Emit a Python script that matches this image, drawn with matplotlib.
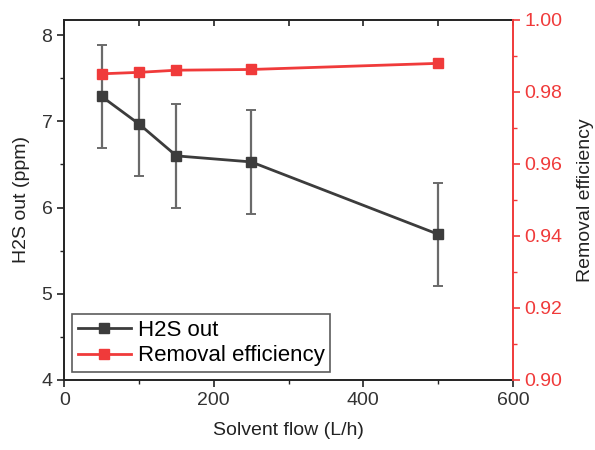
import matplotlib
matplotlib.use("Agg")
import matplotlib.pyplot as plt
from matplotlib.lines import Line2D
from matplotlib.ticker import MultipleLocator

plt.rcParams['font.family'] = ['Liberation Sans', 'DejaVu Sans']

# data
solvent_flow = [50, 100, 150, 250, 500]
h2s_out = [7.29, 6.97, 6.60, 6.53, 5.69]
h2s_err = [0.6, 0.6, 0.6, 0.6, 0.6]
removal_eff = [0.9850, 0.9854, 0.9860, 0.9862, 0.9879]

dark = '#3c3c3c'
red = '#f03a3a'

fig = plt.figure(figsize=(5.95, 4.5), dpi=100)
ax1 = fig.add_axes([0.108, 0.156, 0.754, 0.8])
ax2 = ax1.twinx()

# H2S out with error bars
ax1.errorbar(solvent_flow, h2s_out, yerr=h2s_err, color=dark, ecolor='#6a6a6a',
             elinewidth=1.6, capsize=3.5, capthick=1.4, marker='s', markersize=7,
             linewidth=2, zorder=3)

# removal efficiency
ax2.plot(solvent_flow, removal_eff, color=red, marker='s', markersize=7,
         linewidth=2, zorder=3)

ax1.set_xlim(0, 600)
ax1.set_ylim(4, 8.18)
ax2.set_ylim(0.90, 1.00)

ax1.xaxis.set_major_locator(MultipleLocator(200))
ax1.xaxis.set_minor_locator(MultipleLocator(100))
ax1.yaxis.set_major_locator(MultipleLocator(1))
ax1.yaxis.set_minor_locator(MultipleLocator(0.5))
ax2.yaxis.set_major_locator(MultipleLocator(0.02))
ax2.yaxis.set_minor_locator(MultipleLocator(0.01))
ax2.yaxis.set_major_formatter(plt.FormatStrFormatter('%.2f'))

ax1.tick_params(axis='both', which='major', labelsize=14, length=5, width=1.2,
                colors='#222222', labelcolor='#333333')
ax1.tick_params(axis='both', which='minor', length=3, width=1.0, colors='#222222')
ax1.tick_params(axis='x', which='both', top=False, direction='out')
ax2.tick_params(axis='y', which='major', labelsize=14, length=5, width=1.2,
                colors=red, labelcolor=red)
ax2.tick_params(axis='y', which='minor', length=3, width=1.0, colors=red)

# top ticks point inward
sec = ax1.secondary_xaxis('top')
sec.xaxis.set_major_locator(MultipleLocator(200))
sec.xaxis.set_minor_locator(MultipleLocator(100))
sec.tick_params(axis='x', which='both', direction='in', labeltop=False, length=4,
                width=1.2, colors='#222222')
sec.spines['top'].set_visible(False)

for s in ['left', 'bottom', 'top']:
    ax1.spines[s].set_linewidth(1.4)
    ax1.spines[s].set_color('#222222')
ax2.spines['right'].set_color(red)
ax2.spines['right'].set_linewidth(1.4)
ax2.spines['left'].set_visible(False)
ax2.spines['top'].set_visible(False)
ax2.spines['bottom'].set_visible(False)
ax1.spines['right'].set_visible(False)

ax1.set_xlabel('Solvent flow (L/h)', fontsize=14, color='#222222', labelpad=10)
ax1.set_ylabel('H2S out (ppm)', fontsize=14, color='#222222', labelpad=8)
ax2.set_ylabel('Removal efficiency', fontsize=14, color='#222222', labelpad=10)

handles = [Line2D([], [], color=dark, marker='s', markersize=7, linewidth=2),
           Line2D([], [], color=red, marker='s', markersize=7, linewidth=2)]
labels = ['H2S out', 'Removal efficiency']
leg = ax2.legend(handles, labels, loc='lower left', fontsize=16, frameon=True,
                 fancybox=False, edgecolor='#333333', handlelength=2.4,
                 handletextpad=0.3, borderpad=0.25, labelspacing=0.2,
                 borderaxespad=0.35)
leg.get_frame().set_linewidth(1.2)

fig.savefig('out.png', dpi=100)
